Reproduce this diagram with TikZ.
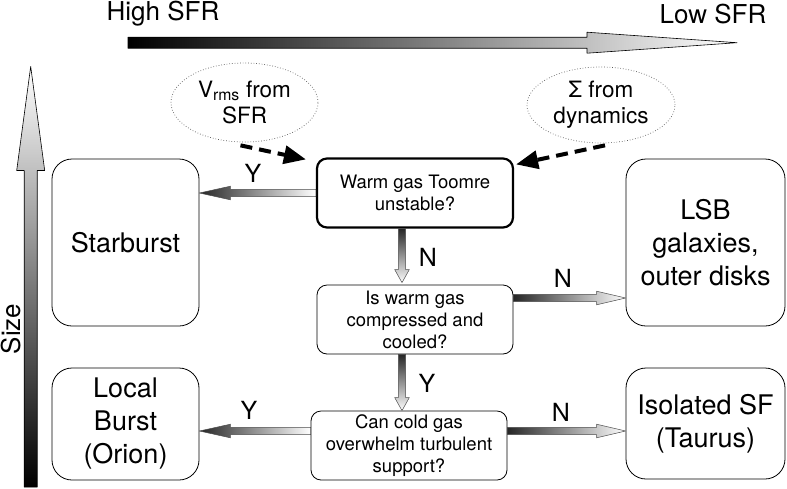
\documentclass[tikz,border=0pt]{standalone}
\usepackage{fontspec}
\setmainfont{TeX Gyre Heros}
\usetikzlibrary{calc,shapes.geometric,arrows.meta}

% shaded block arrow: [style]{tail}{tip}{shaft half}{head half}{head length}
\newcommand{\flowarrow}[6][]{%
  \coordinate (fa-base) at ($(#3)!#6!(#2)$);
  \shadedraw[#1]
    ($(#2)!#4!90:(#3)$) -- ($(fa-base)!#4!-90:(#2)$)
    -- ($(fa-base)!#5!-90:(#2)$) -- (#3)
    -- ($(fa-base)!#5!90:(#2)$) -- ($(fa-base)!#4!90:(#2)$)
    -- ($(#2)!#4!-90:(#3)$) -- cycle;
}

\begin{document}
\begin{tikzpicture}[
  x=1pt,
  y=-1pt,
  line join=round,
  axis label/.style={font=\fontsize{26}{30}\selectfont,inner sep=0pt},
  answer/.style={font=\fontsize{25}{30}\selectfont,inner sep=0pt},
  outcome/.style={
    draw=black,
    line width=0.8pt,
    rounded corners=20pt,
    align=center,
    inner sep=0pt,
    font=\fontsize{27}{33}\selectfont
  },
  question/.style={
    draw=black,
    line width=0.8pt,
    rounded corners=10pt,
    align=center,
    inner sep=0pt,
    minimum width=196pt,
    minimum height=69pt,
    font=\fontsize{18.5}{22}\selectfont
  },
  input/.style={
    ellipse,
    draw=black!65,
    dotted,
    line width=0.7pt,
    align=center,
    inner sep=0pt,
    font=\fontsize{22.5}{26}\selectfont
  },
  hint arrow/.style={
    draw=black,
    line width=4pt,
    dash pattern=on 12pt off 7pt,
    -{Triangle[length=22pt,width=18pt]}
  },
  axis arrow/.style={draw=black,line width=0.6pt},
  small arrow/.style={draw=black!70,line width=0.5pt}
]
  \path[use as bounding box] (0,0) rectangle (787,488);

  % axes: star formation rate and size
  \node[axis label] (high) at (163,14) {High SFR};
  \node[axis label] (low) at (713,14) {Low SFR};
  \node[axis label,rotate=90] (size) at (11,329) {Size};
  \coordinate (sfr tail) at (128,42.7);
  \coordinate (sfr tip) at (737,42.7);
  \coordinate (size tail) at (30.7,487);
  \coordinate (size tip) at (30.7,66.5);
  \flowarrow[axis arrow,left color=black,right color=white]
    {sfr tail}{sfr tip}{5.5pt}{10.5pt}{150pt}
  \flowarrow[axis arrow,bottom color=black,top color=white]
    {size tail}{size tip}{6.5pt}{14pt}{104pt}

  % inputs
  \node[input,minimum width=147pt,minimum height=79pt] (vrms)
    at (244.5,102.5) {V\textsubscript{rms} from\\SFR};
  \node[input,minimum width=148pt,minimum height=76pt] (sigma)
    at (601,105) {Σ from\\dynamics};

  % questions
  \node[question,line width=2.2pt] (q1) at (415,193)
    {Warm gas Toomre\\unstable?};
  \node[question] (q2) at (415,319.5)
    {Is warm gas\\compressed and\\cooled?};
  \node[question] (q3) at (409,445.5)
    {Can cold gas\\overwhelm turbulent\\support?};

  % outcomes
  \node[outcome,minimum width=147pt,minimum height=167pt] (burst)
    at (125.5,242.5) {Starburst};
  \node[outcome,minimum width=147pt,minimum height=112pt] (local)
    at (125.5,424) {Local\\Burst\\(Orion)};
  \node[outcome,minimum width=159pt,minimum height=167pt] (lsb)
    at (705.5,242.5) {LSB\\galaxies,\\outer disks};
  \node[outcome,minimum width=159pt,minimum height=111pt] (iso)
    at (705.5,423.5) {Isolated SF\\(Taurus)};

  \draw[hint arrow] ($(vrms.south)+(-4,3)$) -- ($(q1.north west)+(-10,2)$);
  \draw[hint arrow] ($(sigma.south)+(4,2)$) -- ($(q1.north east)+(2,7)$);

  % decision arrows
  \coordinate (y1 tip) at (burst.east |- q1.west);
  \coordinate (y2 tail) at ($(q3.west)+(0,-14.5)$);
  \coordinate (y2 tip) at (local.east |- y2 tail);
  \coordinate (n1 tail) at ($(q1.south)+(-13,0)$);
  \coordinate (n1 tip) at ($(n1 tail |- q2.north)+(0,-2)$);
  \coordinate (y3 tail) at ($(q2.south)+(-13,0)$);
  \coordinate (y3 tip) at (y3 tail |- q3.north);
  \coordinate (n2 tail) at ($(q2.east)+(0,-21.5)$);
  \coordinate (n2 tip) at (lsb.west |- n2 tail);
  \coordinate (n3 tail) at ($(q3.east)+(0,-14.5)$);
  \coordinate (n3 tip) at (iso.west |- n3 tail);

  \flowarrow[small arrow,left color=black!85,right color=white]
    {q1.west}{y1 tip}{3.7pt}{6.8pt}{31pt}
  \flowarrow[small arrow,left color=black!85,right color=white]
    {y2 tail}{y2 tip}{3.7pt}{6.8pt}{31pt}
  \flowarrow[small arrow,top color=black!85,bottom color=white]
    {n1 tail}{n1 tip}{3.7pt}{7.3pt}{13pt}
  \flowarrow[small arrow,top color=black!85,bottom color=white]
    {y3 tail}{y3 tip}{3.7pt}{7.3pt}{13pt}
  \flowarrow[small arrow,left color=black!85,right color=white]
    {n2 tail}{n2 tip}{3.7pt}{6.8pt}{29pt}
  \flowarrow[small arrow,left color=black!85,right color=white]
    {n3 tail}{n3 tip}{3.7pt}{6.8pt}{29pt}

  \node[answer] (y1) at (253,173) {Y};
  \node[answer] (y2) at (249,410) {Y};
  \node[answer] (n1) at (428,257) {N};
  \node[answer] (y3) at (427,383) {Y};
  \node[answer] (n2) at (563,278) {N};
  \node[answer] (n3) at (561,412) {N};
\end{tikzpicture}
\end{document}
